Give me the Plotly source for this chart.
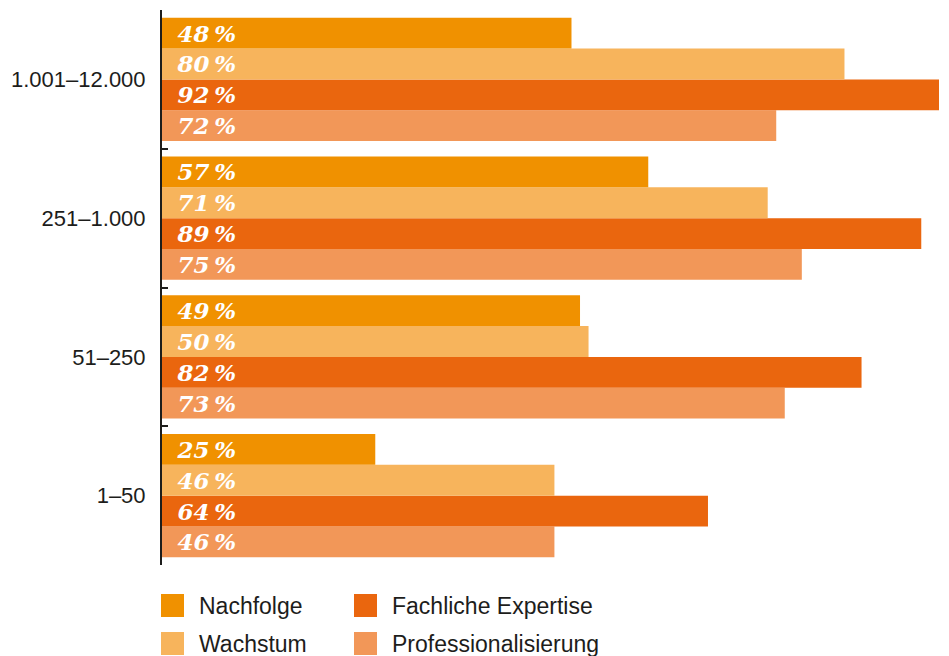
import plotly.graph_objects as go

categories = ["1–50", "51–250", "251–1.000", "1.001–12.000"]
series_names = ["Nachfolge", "Wachstum", "Fachliche Expertise", "Professionalisierung"]
nachfolge = [25, 49, 57, 48]
wachstum = [46, 50, 71, 80]
fachliche = [64, 82, 89, 92]
professionalisierung = [46, 73, 75, 72]
colors = ["#F09100", "#F7B45C", "#EA660E", "#F29758"]

values = [nachfolge, wachstum, fachliche, professionalisierung]

W, H = 949, 656
ML, MR, MT, MB = 162, 10, 10, 91
PW, PH = W - ML - MR, H - MT - MB

def px_x(p):
    return (p - ML) / PW

def px_y(p):
    return (H - MB - p) / PH

fig = go.Figure()
# add in reverse so Nachfolge appears on top within each group
for name, vals, col in reversed(list(zip(series_names, values, colors))):
    fig.add_trace(go.Bar(
        y=categories, x=vals, name=name, orientation="h",
        marker=dict(color=col, line=dict(width=0)),
        text=["\u00a0\u2009%d\u2009%%" % v for v in vals],
        textposition="inside", insidetextanchor="start", constraintext="none",
        textangle=0,
        insidetextfont=dict(family="DejaVu Serif", size=23, color="white",
                            weight="bold", style="italic"),
        showlegend=False, hoverinfo="skip",
    ))

# legend built from swatches and real text
legend_layout = [
    ("Nachfolge", 161, 594, 197),
    ("Fachliche Expertise", 354, 594, 390),
    ("Wachstum", 161, 632, 197),
    ("Professionalisierung", 354, 632, 390),
]
shapes = []
annotations = []
for name, sx, sy, tx in legend_layout:
    col = colors[series_names.index(name)]
    shapes.append(dict(type="rect", xref="paper", yref="paper",
                       x0=px_x(sx), x1=px_x(sx + 23), y0=px_y(sy + 23), y1=px_y(sy),
                       fillcolor=col, line=dict(width=0)))
    annotations.append(dict(xref="paper", yref="paper", x=px_x(tx), y=px_y(sy + 11.5),
                            text=name, showarrow=False, xanchor="left", yanchor="middle",
                            font=dict(family="Liberation Sans", size=23, color="#1d1d1b")))

fig.update_layout(
    width=W, height=H,
    margin=dict(l=ML, r=MR, t=MT, b=MB),
    barmode="group", bargap=0.11, bargroupgap=0,
    plot_bgcolor="white", paper_bgcolor="white",
    showlegend=False,
    shapes=shapes, annotations=annotations,
    xaxis=dict(range=[0, 91.08], visible=False, showgrid=False, zeroline=False),
    yaxis=dict(
        showline=True, linecolor="#1d1d1b", linewidth=2,
        ticks="inside", tickson="boundaries", ticklen=6, tickwidth=2, tickcolor="#1d1d1b",
        tickfont=dict(family="Liberation Sans", size=22, color="#1d1d1b"),
        ticklabelstandoff=10, showgrid=False, zeroline=False,
    ),
)

fig.write_html("out.html")
